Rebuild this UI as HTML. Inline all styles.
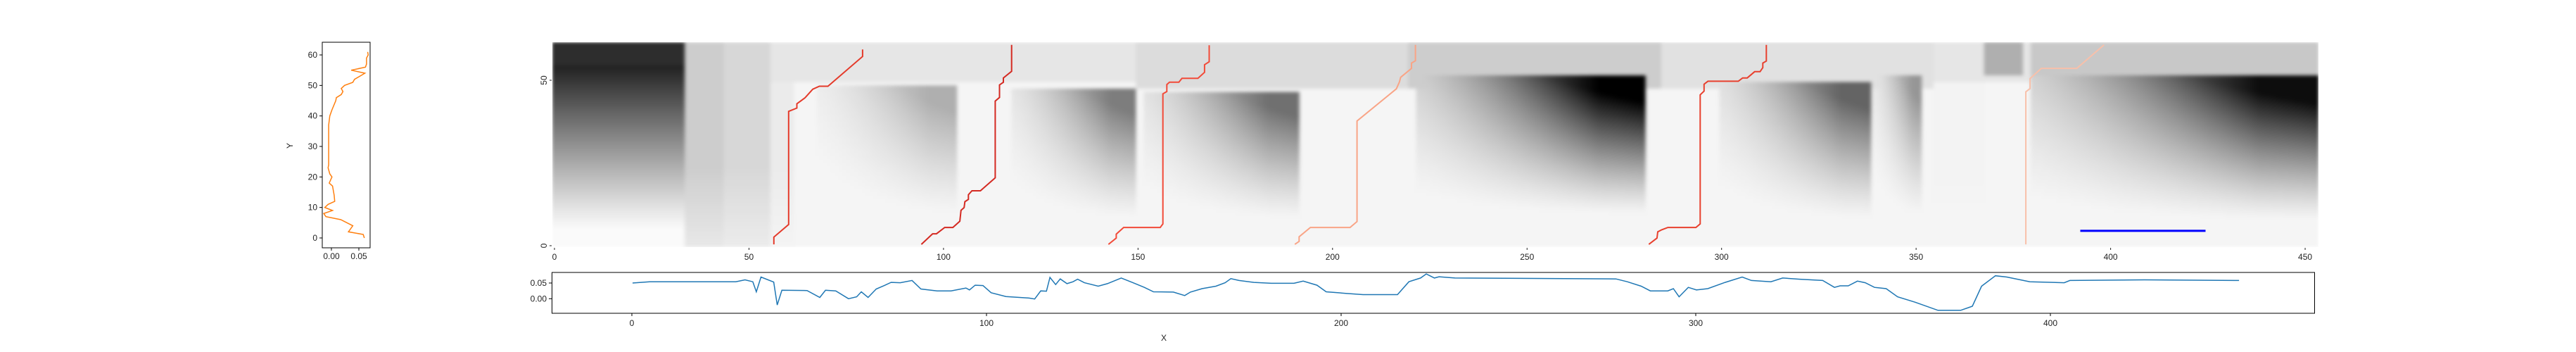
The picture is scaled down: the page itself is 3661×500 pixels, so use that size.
<!DOCTYPE html>
<html><head><meta charset="utf-8"><style>
html,body{margin:0;padding:0;background:#fff;width:3661px;height:500px;overflow:hidden}
#hmwrap{position:absolute;left:785px;top:60px;width:2510px;height:291.4px;overflow:hidden}
#hm{position:absolute;left:0;top:0;width:2510px;height:291.4px;filter:blur(2px)}
svg{position:absolute;left:0;top:0}
text{font-family:"Liberation Sans",sans-serif;font-size:12px;fill:#222}
</style></head><body>
<div id="hmwrap"><canvas id="hm" width="454" height="62"></canvas></div>
<svg id="s" width="3661" height="500"></svg>
<script>
// ---------- data ----------
const leftY=[0,1.15,2,4,6,7,8,9,10,11,12,14,17,18,20,21,23,24,30,37,40,42,45,46,47,48,49,50,51,52,54,55,56,57,59,60,61];
const leftV=[0.060,0.058,0.031,0.039,0.017,-0.010,-0.014,0.002,-0.012,-0.006,0.006,0.005,0.002,-0.004,0.001,-0.003,-0.006,-0.005,-0.005,-0.005,-0.003,0.001,0.008,0.009,0.018,0.021,0.018,0.024,0.039,0.042,0.061,0.036,0.062,0.064,0.064,0.067,0.066];
const botX=[0.2,5,29.3,31.9,34.1,35.1,36.4,40,41,42.3,49.4,53,54.6,57.5,61.1,63.4,64.7,66.6,68.9,71.2,73.1,75.7,79,81.5,86.1,90,94.2,95.2,96.8,99,101.3,105.5,112,113.6,115.3,116.9,117.9,119.5,120.8,122.7,124.4,125.7,127.6,131.5,134.1,138,141.3,144.5,147.1,152.7,155.9,157.5,160.8,164.7,167.3,168.9,171.2,175.4,180.3,186.7,189.3,193.2,195.8,201.3,206.2,215.9,219.1,222.4,224,226.3,227.6,232.1,277.5,280.7,284.6,287.2,292.1,293.7,295.3,297.9,300.2,303.4,308.3,313.1,315.7,321.2,324.5,329.3,335.8,339.1,340.7,343,345.6,347.8,350.4,353.7,356.9,361.8,368.3,374.7,378,380.6,384.5,387.7,394.2,403.9,405.5,426.6,453.2];
const botV=[0.050,0.054,0.054,0.060,0.054,0.022,0.069,0.053,-0.020,0.027,0.026,0.004,0.027,0.025,0.0,0.006,0.022,0.004,0.031,0.042,0.052,0.051,0.058,0.031,0.025,0.025,0.034,0.028,0.043,0.042,0.019,0.007,0.002,-0.001,0.025,0.024,0.068,0.045,0.063,0.048,0.054,0.062,0.051,0.040,0.048,0.066,0.051,0.036,0.022,0.021,0.010,0.021,0.032,0.040,0.051,0.064,0.058,0.052,0.049,0.049,0.056,0.043,0.022,0.017,0.013,0.013,0.054,0.066,0.079,0.066,0.070,0.066,0.063,0.054,0.040,0.025,0.025,0.032,0.006,0.036,0.028,0.032,0.052,0.069,0.058,0.054,0.066,0.062,0.058,0.036,0.041,0.041,0.056,0.051,0.036,0.032,0.006,-0.011,-0.037,-0.037,-0.024,0.040,0.073,0.069,0.054,0.051,0.058,0.060,0.058];
const pathXs=[
 [56.4,56.4,60.2,60.2,62.3,62.3,64.4,66.4,68.1,70.3,79.2,79.2],
 [94.3,97.2,98.2,100.3,102.4,104.2,104.5,105.3,105.5,106.4,106.4,107.3,109.5,113.3,113.3,114.4,114.4,115.4,115.4,117.5,117.5],
 [142.4,144.4,144.4,146.3,155.7,156.4,156.4,157.4,157.4,158.1,160.5,161.3,165.4,167.1,167.1,168.3,168.3],
 [190.3,191.4,191.4,194.3,204.5,206.3,206.3,216.4,217.2,217.5,220.3,220.3,221.3,221.3],
 [281.3,283.4,283.6,284.6,286.2,293.4,294.5,294.5,295.5,295.5,296.5,304.3,305.4,306.6,308.5,309.9,310.6,310.6,311.5,311.5],
 [378.2,378.2,379.3,379.3,382.2,391.3,398.3]];
const pathYs=[
 [0.4,2.6,6.4,40.6,41.6,42.9,44.7,47.3,48.2,48.2,57.2,59.3],
 [0.4,3.6,3.6,5.5,5.5,7.4,10.7,11.5,13.3,14,15.4,16.6,16.6,20.5,43.7,44.8,48.6,49.4,50.7,52.7,60.7],
 [0.4,2.3,3.5,5.5,5.5,6.6,45.9,46.6,48.7,49.4,49.4,50.6,50.6,52.4,54.7,55.6,60.6],
 [0.4,1.3,2.7,5.5,5.5,7.3,37.7,47.4,49.5,50.9,53.6,55.2,55.9,60.7],
 [0.4,2.3,4.2,4.8,5.5,5.5,6.6,45.6,46.7,48.8,49.7,49.7,50.7,50.7,52.6,52.6,53.8,55.2,55.8,60.7],
 [0.4,46.5,47.5,50.5,53.6,53.6,60.7]];
const pathColors=["#e43a2a","#d42a22","#f24a38","#f9a486","#e8402e","#f8c0aa"];
const segX=[392.2,424.4], segY=[4.5,4.5];
// heatmap blocks [x0,x1,yTop,yBot,peak]
const blockX0=[68,118,152,222,300,339,380];
const blockX1=[104,150,192,281,339,352,454];
const blockTop=[48,47,46,51,49,51,51];
const blockBot=[6,6,6,8,6,6,6];
const blockPeak=[0.3,0.5,0.55,1.0,0.6,0.4,0.95];
// bands [x0,x1,y0,y1,value]
const bandX0=[34,44,56,56,150,220,285,355,368,380];
const bandX1=[44,56,62,454,220,285,355,368,378,454];
const bandY0=[0,0,0,50,48,48,48,0,52,52];
const bandY1=[62,62,62,62,62,62,62,62,62,62];
const bandV=[0.18,0.14,0.06,0.08,0.12,0.18,0.1,0.03,0.3,0.2];
const xTicks=[0,50,100,150,200,250,300,350,400,450];
const bxTicks=[0,100,200,300,400];

// ---------- heatmap ----------
const cv=document.getElementById('hm'),cx=cv.getContext('2d');
for(let c=0;c<454;c++){for(let r=0;r<62;r++){
 let v=0.02;
 if(c<34){v=r>=55?0.82:0.86*Math.pow(Math.max(0,Math.min(1,(r-5)/49)),1.1);}
 for(let i=0;i<bandV.length;i++){if(c>=bandX0[i]&&c<bandX1[i]&&r>=bandY0[i]&&r<bandY1[i]){
  const f=bandY0[i]===0?Math.min(1,0.4+r/40):1; v=Math.max(v,bandV[i]*f);}}
 for(let i=0;i<blockPeak.length;i++){if(c>=blockX0[i]&&c<blockX1[i]&&r<=blockTop[i]){
  const fx=Math.pow((c-blockX0[i])/(blockX1[i]-blockX0[i]),1.2);
  const fy=Math.pow(Math.max(0,Math.min(1,(r-blockBot[i])/(blockTop[i]-blockBot[i]))),1.3);
  v=Math.max(v,blockPeak[i]*Math.min(1,0.25+fx)*Math.min(1,fy*(0.7+fx*0.6)));}}
 v=Math.min(1,v);
 const g=Math.round(250*(1-v));
 cx.fillStyle='rgb('+g+','+g+','+g+')';
 cx.fillRect(c,61-r,1,1);
}}

// ---------- svg ----------
const S=document.getElementById('s'),NS='http://www.w3.org/2000/svg';
function mk(t,a,p){const e=document.createElementNS(NS,t);for(const k in a)e.setAttribute(k,a[k]);(p||S).appendChild(e);return e;}
const hx=v=>788+v*5.529, hy=v=>349-v*4.7;
const gp=mk('g',{});


pathXs.forEach((xs,i)=>{
 const d=xs.map((x,j)=>(j?'L':'M')+hx(x).toFixed(1)+','+hy(pathYs[i][j]).toFixed(1)).join('');
 const p=mk('path',{d:d,fill:'none',stroke:pathColors[i],'stroke-width':2},gp);
 
 
});
const bl=mk('line',{x1:hx(segX[0]),y1:hy(segY[0]),x2:hx(segX[1]),y2:hy(segY[1]),stroke:'#0000ff','stroke-width':3});


xTicks.forEach(t=>{mk('line',{x1:hx(t),x2:hx(t),y1:352,y2:355,stroke:'#222'});
 const tx=mk('text',{x:hx(t),y:369,'text-anchor':'middle'});tx.textContent=t;
 
 });
[0,50].forEach(t=>{mk('line',{x1:781,x2:784,y1:hy(t),y2:hy(t),stroke:'#222'});
 const tx=mk('text',{x:777,y:hy(t),'text-anchor':'middle',transform:'rotate(-90 777 '+hy(t)+')'});tx.textContent=t;
 
 });

const lx=v=>471+v*780, ly=v=>338-v*4.333;
mk('rect',{x:458,y:60,width:68,height:292,fill:'none',stroke:'#000','stroke-width':1});
const lp=mk('path',{d:leftV.map((v,j)=>(j?'L':'M')+lx(v).toFixed(1)+','+ly(leftY[j]).toFixed(1)).join(''),fill:'none',stroke:'#ff7f0e','stroke-width':1.5});


[0,10,20,30,40,50,60].forEach(t=>{mk('line',{x1:454,x2:458,y1:ly(t),y2:ly(t),stroke:'#000'});
 const tx=mk('text',{x:451,y:ly(t)+4,'text-anchor':'end'});tx.textContent=t;
 
 });
[0,0.05].forEach(t=>{mk('line',{x1:lx(t),x2:lx(t),y1:352,y2:356,stroke:'#000'});
 const tx=mk('text',{x:lx(t),y:368,'text-anchor':'middle'});tx.textContent=t.toFixed(2);
 
 });
const yl=mk('text',{x:416,y:207,'text-anchor':'middle',transform:'rotate(-90 416 207)'});yl.textContent='Y';



const bx=v=>898+v*5.04, by=v=>424.3-v*446;
mk('rect',{x:784.5,y:387,width:2505,height:58,fill:'none',stroke:'#000','stroke-width':1});
const bp=mk('path',{d:botV.map((v,j)=>(j?'L':'M')+bx(botX[j]).toFixed(1)+','+by(v).toFixed(1)).join(''),fill:'none',stroke:'#1f77b4','stroke-width':1.5});


[0,0.05].forEach(t=>{mk('line',{x1:780,x2:784,y1:by(t),y2:by(t),stroke:'#000'});
 const tx=mk('text',{x:777,y:by(t)+4,'text-anchor':'end'});tx.textContent=t.toFixed(2);
 
 });
bxTicks.forEach(t=>{mk('line',{x1:bx(t),x2:bx(t),y1:445,y2:449,stroke:'#000'});
 const tx=mk('text',{x:bx(t),y:463,'text-anchor':'middle'});tx.textContent=t;
 
 });
const xl=mk('text',{x:bx(150),y:484,'text-anchor':'middle'});xl.textContent='X';


</script>
</body></html>
